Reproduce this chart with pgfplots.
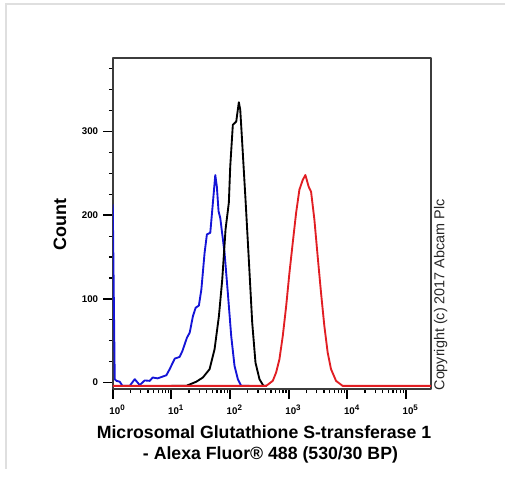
\documentclass[border=0pt]{standalone}
\usepackage{pgfplots}
\pgfplotsset{compat=1.18}
\usepackage{fontspec}
\setmainfont{Liberation Sans}

\definecolor{histblue}{RGB}{20,20,215}
\definecolor{histred}{RGB}{225,30,35}
\definecolor{frame}{RGB}{60,60,60}

\begin{document}
\begin{tikzpicture}[x=0.75pt,y=0.75pt]
% page frame of the screenshot
\path (0,0) rectangle (506,479);
\draw[gray!25, line width=1.5pt] (506,475) -- (6,475) -- (6,9);

\begin{axis}[
    at={(84.75pt,66.75pt)}, anchor=south west,
    scale only axis,
    width=239.25pt, height=249pt,
    xmode=log,
    xmin=1, xmax=2.69e5,
    ymin=-8, ymax=388,
    axis line style={frame, line width=1.3pt},
    tick align=outside,
    xtick pos=bottom, ytick pos=left,
    xtick={1,10,100,1000,10000,100000},
    xticklabels={10\textsuperscript{\fontsize{6}{6}\selectfont 0},10\textsuperscript{\fontsize{6}{6}\selectfont 1},10\textsuperscript{\fontsize{6}{6}\selectfont 2},10\textsuperscript{\fontsize{6}{6}\selectfont 3},10\textsuperscript{\fontsize{6}{6}\selectfont 4},10\textsuperscript{\fontsize{6}{6}\selectfont 5}},
    ytick={0,100,200,300},
    yticklabels={0,100,200,300},
    minor ytick={25,50,75,125,150,175,225,250,275,325,350,375},
    major tick length=7pt,
    minor tick length=3pt,
    every major tick/.style={black, line width=1.4pt},
    every minor tick/.style={black, line width=0.9pt},
    tick label style={font=\fontsize{7.3}{8}\selectfont\bfseries},
    xticklabel style={xshift=3.5pt, yshift=-1pt},
    yticklabel style={xshift=-0.5pt},
    line join=round,
]
% unstained / isotype (blue)
\addplot[histblue, line width=1.4pt] coordinates {
(1,213) (1.08,4) (1.156,2) (1.316,1) (1.46,-4) (1.945,-4) (2.37,4) (2.88,-3)
(3.5,2.5) (4.26,2) (4.8,6) (5.83,5) (8.2,8.7) (9.34,16) (11.4,28.6) (13.8,30.6)
(15.4,37.7) (18.4,53.6) (20.5,59.6) (23.3,79.4) (25.9,89.4) (29.4,92) (32.4,111)
(36.8,155) (40.3,177) (46.0,179) (49.8,206.6) (56.0,248) (59.6,234) (63.7,204.6)
(68.1,196.7) (80.6,155) (91.7,107) (104.7,55.6) (119.3,19.8) (135.8,4) (155,-4) (214,-4)
};
% negative control (black)
\addplot[black, line width=1.4pt] coordinates {
(10,-4) (17.9,-4) (26.6,1) (34.4,6) (44.8,16) (54.5,40) (64.5,79) (73.6,123)
(83.8,183) (95.4,215) (100.7,258) (111.6,308) (127.6,312) (141.2,335) (149.3,326)
(161.4,286) (183.6,218.6) (209,147) (238.8,71.5) (271.6,23.8) (317.7,4) (371.5,-4) (420,-4)
};
% antibody (red)
\addplot[histred, line width=1.4pt] coordinates {
(1,-4) (413,-4) (535,2) (611,12) (696,28) (793,55.6) (905,91) (1030,131) (1173,167)
(1340,203) (1524,230.5) (1734,242) (1928,248) (2193,234) (2410,228) (2742,195)
(3120,151) (3565,107) (4060,67.5) (4623,35.8) (5275,16) (6422,2) (8318,-4) (2.69e5,-4)
};
\end{axis}

\node[rotate=90, font=\fontsize{13.5}{14}\selectfont\bfseries] at (60,254) {Count};
\node[anchor=base, font=\fontsize{13.3}{14}\selectfont\bfseries] at (264.5,40) {Microsomal Glutathione S-transferase 1};
\node[anchor=base, font=\fontsize{13.3}{14}\selectfont\bfseries] at (271,19) {- Alexa Fluor® 488 (530/30 BP)};
\node[rotate=90, text=black!85, font=\fontsize{10.8}{11}\selectfont] at (441.5,183.5) {Copyright (c) 2017 Abcam Plc};
\end{tikzpicture}
\end{document}
